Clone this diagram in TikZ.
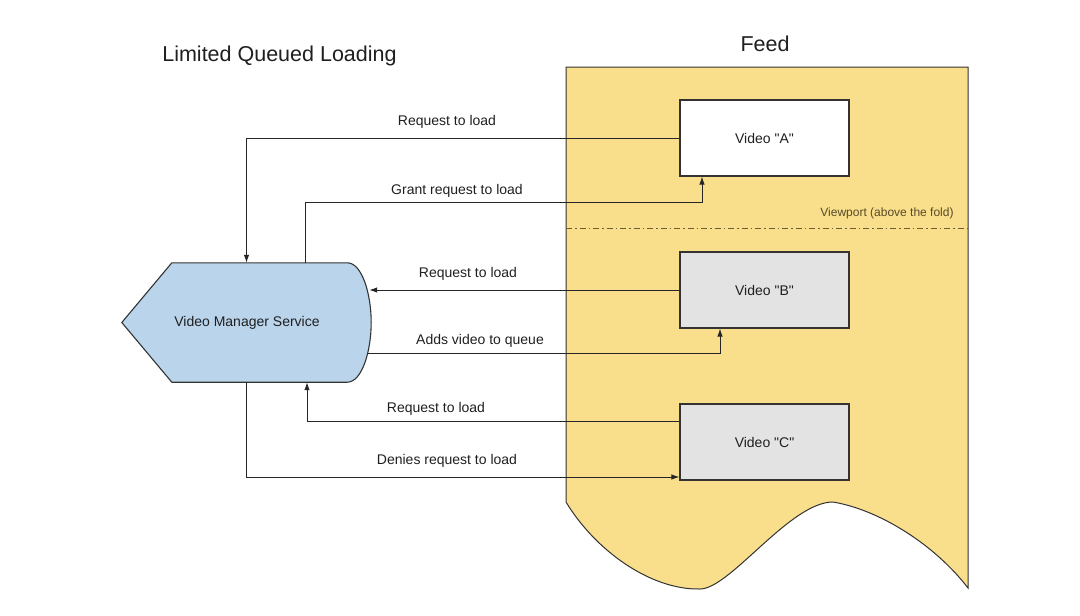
\documentclass[tikz,border=0pt]{standalone}
\usepackage{fontspec}
\setmainfont{Liberation Sans}
\usepackage{xcolor}
\definecolor{feedYellow}{RGB}{249, 223, 139}
\definecolor{vmsBlue}{RGB}{186, 212, 236}
\definecolor{boxGray}{RGB}{227, 227, 227}
\definecolor{edgeDark}{RGB}{51, 51, 51}
\definecolor{foldBrown}{RGB}{110, 92, 50}
\usepackage{tikz}
\usetikzlibrary{positioning,arrows.meta,calc,backgrounds}

\begin{document}
\begin{tikzpicture}[
  x=1pt, y=-1pt,
  every node/.style={text=black!88},
  vbox/.style={draw=edgeDark, line width=1.1pt, rectangle, minimum width=169pt,
               minimum height=76pt, font=\fontsize{14}{16}\selectfont},
  arr/.style={-{Latex[length=8pt,width=5.5pt]}, line width=1pt, draw=black!85},
  lbl/.style={font=\fontsize{14}{16}\selectfont},
  ttl/.style={font=\fontsize{21.5}{25}\selectfont}
]
\useasboundingbox (0,0) rectangle (1080,616);

% feed page
\draw[edgeDark, line width=1pt, fill=feedYellow]
  (566,67) -- (968,67) -- (968,588)
  .. controls (935,545) and (880,510) .. (833,502)
  .. controls (790,502) and (730,589) .. (700,589)
  .. controls (650,590) and (595,550) .. (566,502) -- cycle;
\draw[foldBrown, line width=0.8pt, dash pattern=on 6pt off 3pt on 1.5pt off 3pt]
  (566,228) -- (968,228);
\node[font=\fontsize{12}{14}\selectfont, text=foldBrown!80!black] (fold) at (887,213) {Viewport (above the fold)};

\node[ttl] (title) at (279.5,56) {Limited Queued Loading};
\node[ttl] (feed)  at (765,44)   {Feed};

% videos
\node[vbox, fill=white]   (va) at (764.5,138) {Video \textquotedbl A\textquotedbl};
\node[vbox, fill=boxGray] (vb) at (764.5,290) {Video \textquotedbl B\textquotedbl};
\node[vbox, fill=boxGray] (vc) at (764.5,442) {Video \textquotedbl C\textquotedbl};

% service
\node[minimum width=249pt, minimum height=119pt, inner sep=0pt,
      font=\fontsize{14}{16}\selectfont] (vms) at (246.5,322.5) {\hspace*{1pt}Video Manager Service};
\begin{scope}[on background layer]
\draw[edgeDark, line width=1.1pt, fill=vmsBlue]
  (vms.west) -- ([xshift=50pt]vms.north west) -- ([xshift=-24pt]vms.north east)
  .. controls ([xshift=-9pt]vms.north east) and ([yshift=28pt]vms.east) .. (vms.east)
  .. controls ([yshift=-28pt]vms.east) and ([xshift=-9pt]vms.south east) .. ([xshift=-24pt]vms.south east)
  -- ([xshift=50pt]vms.south west) -- cycle;
\end{scope}

% requests and answers
\draw[arr] (va.west) -- (va.west -| vms.north) -- (vms.north);
\draw[arr] ([xshift=58.5pt]vms.north) -- ++(0,-60) -| ([xshift=-62.5pt]va.south);
\draw[arr] (vb.west) -- ([xshift=-2pt]vb.west -| vms.east);
\draw[arr] ([xshift=-3pt,yshift=-30.5pt]vms.east) -| ([xshift=-44.5pt]vb.south);
\draw[arr] ([yshift=21pt]vc.west) -| ([xshift=60.5pt]vms.south);
\draw[arr] (vms.south) |- ([yshift=-35pt]vc.west);

\node[lbl] (l1) at (447,122) {Request to load};
\node[lbl] (l2) at (457,191) {Grant request to load};
\node[lbl] (l3) at (468,274) {Request to load};
\node[lbl] (l4) at (480,341) {Adds video to queue};
\node[lbl] (l5) at (436,409) {Request to load};
\node[lbl] (l6) at (447,461) {Denies request to load};
\end{tikzpicture}
\end{document}
